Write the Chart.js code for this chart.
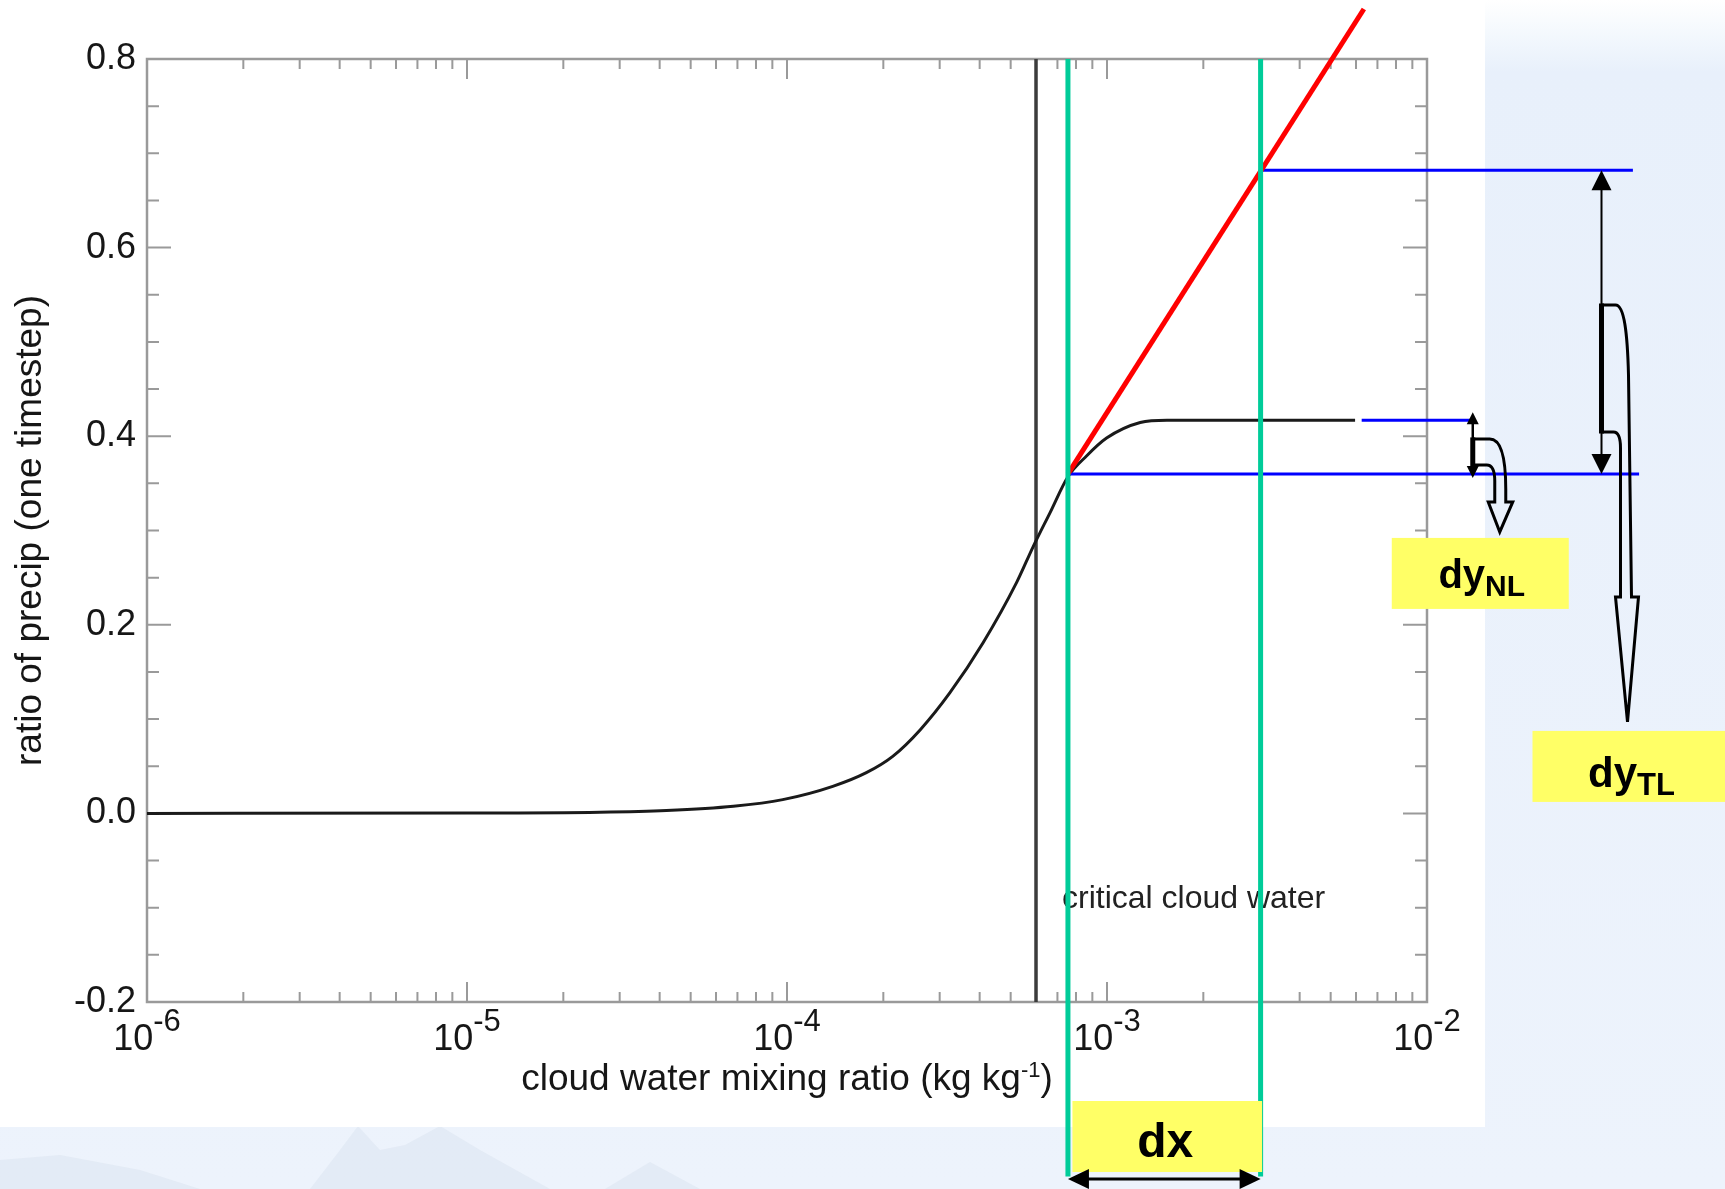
<!DOCTYPE html>
<html>
<head>
<meta charset="utf-8">
<title>Precip ratio vs cloud water</title>
<script src="https://cdn.jsdelivr.net/npm/chart.js@4.4.1/dist/chart.umd.min.js"></script>
<style>
  html, body { margin: 0; padding: 0; background: #eaf1fb; }
  #wrap { width: 1725px; height: 1189px; }
</style>
</head>
<body>
<div id="wrap"><canvas id="precip-chart" width="1725" height="1189"></canvas></div>
<script>

// cloud water mixing ratio (kg/kg) and fraction precipitated in one timestep
var cloudWater = [1e-6, 1e-5, 2.6e-5, 4.2e-5, 6.8e-5, 9.7e-5, 1.39e-4, 1.77e-4, 2.14e-4, 2.61e-4, 3.23e-4,
                  4.1e-4, 5.22e-4, 5.88e-4, 6.64e-4, 7.55e-4, 8.63e-4, 9.97e-4, 1.27e-3, 1.54e-3, 5.96e-3];
var precipRatio = [0.0, 0.0003, 0.0012, 0.003, 0.0075, 0.0146, 0.0287, 0.0432, 0.0605, 0.0888, 0.128,
                   0.181, 0.245, 0.283, 0.319, 0.357, 0.379, 0.398, 0.4145, 0.417, 0.417];

var qCrit = 6.0e-4;

// tangent-linear line from the base state
var tangentX = [7.55e-4, 6.35e-3];
var tangentY = [0.36, 0.853];

// perturbation: base state and perturbed state
var dxBounds = [7.55e-4, 3.02e-3];
var yBase = 0.36;
var yNL = 0.417;
var yTL = 0.682;

// where the dy arrows sit (kg/kg, off the right of the axis)
var xArrowNL = 0.0139;
var xArrowTL = 0.0351;
var xLineEnd = [0.044, 0.046];
var xNLStart = 6.25e-3;

var xMajor = [1e-6, 1e-5, 1e-4, 1e-3, 1e-2];
var xMajorExp = ['-6', '-5', '-4', '-3', '-2'];
var yMajor = [-0.2, 0.0, 0.2, 0.4, 0.6, 0.8];

var FONT = "'Liberation Sans', Arial, Helvetica, sans-serif";
var INK = '#161616';

Chart.defaults.font.family = FONT;

function seg(x0, y0, x1, y1) {
    return [{x: x0, y: y0}, {x: x1, y: y1}];
}

function lineSet(data, color, width, order) {
    return {
        data: data,
        borderColor: color,
        borderWidth: width,
        pointRadius: 0,
        fill: false,
        clip: false,
        order: order
    };
}

// slide background behind the white plot panel
var slideBackground = {
    id: 'slideBackground',
    beforeDraw: function(chart) {
        var ctx = chart.ctx;
        var w = chart.width, h = chart.height;
        ctx.save();
        var g = ctx.createLinearGradient(0, 0, 0, h);
        g.addColorStop(0, '#ffffff');
        g.addColorStop(0.03, '#f3f8fd');
        g.addColorStop(0.06, '#e8f0fb');
        g.addColorStop(1, '#edf3fc');
        ctx.fillStyle = g;
        ctx.fillRect(0, 0, w, h);

        // faint hills
        ctx.fillStyle = 'rgba(200, 210, 226, 0.25)';
        ctx.beginPath();
        ctx.moveTo(0, h);
        ctx.lineTo(0, 1160);
        ctx.lineTo(60, 1155);
        ctx.lineTo(140, 1170);
        ctx.lineTo(200, h);
        ctx.closePath();
        ctx.fill();
        ctx.beginPath();
        ctx.moveTo(310, h);
        ctx.lineTo(340, 1150);
        ctx.lineTo(358, 1126);
        ctx.lineTo(380, 1150);
        ctx.lineTo(405, 1145);
        ctx.lineTo(440, 1126);
        ctx.lineTo(480, 1150);
        ctx.lineTo(550, h);
        ctx.closePath();
        ctx.fill();
        ctx.beginPath();
        ctx.moveTo(605, h);
        ctx.lineTo(650, 1162);
        ctx.lineTo(700, h);
        ctx.closePath();
        ctx.fill();

        ctx.fillStyle = '#ffffff';
        ctx.fillRect(0, 0, 1485, 1127);
        ctx.restore();
    }
};

// box frame with inward ticks on all four sides, plus the critical label
var boxFrame = {
    id: 'boxFrame',
    beforeDatasetsDraw: function(chart) {
        var ctx = chart.ctx, a = chart.chartArea;
        var xs = chart.scales.x, ys = chart.scales.y;
        ctx.save();
        ctx.strokeStyle = '#9a9a9a';
        ctx.lineWidth = 2.5;
        ctx.strokeRect(a.left, a.top, a.right - a.left, a.bottom - a.top);

        ctx.lineWidth = 2;
        ctx.beginPath();
        for (var e = -6; e < -2 + 1; e++) {
            for (var m = 1; m < 10; m++) {
                var v = m * Math.pow(10, e);
                if (v > 1e-2 * 1.0001) continue;
                var px = xs.getPixelForValue(v);
                var len = m === 1 ? 20 : 10;
                ctx.moveTo(px, a.bottom);
                ctx.lineTo(px, a.bottom - len);
                ctx.moveTo(px, a.top);
                ctx.lineTo(px, a.top + len);
            }
        }
        for (var k = 0; k <= 20; k++) {
            var yv = -0.2 + k * 0.05;
            var py = ys.getPixelForValue(yv);
            var ylen = k % 4 === 0 ? 24 : 12;
            ctx.moveTo(a.left, py);
            ctx.lineTo(a.left + ylen, py);
            ctx.moveTo(a.right, py);
            ctx.lineTo(a.right - ylen, py);
        }
        ctx.stroke();

        ctx.fillStyle = '#222';
        ctx.font = '32px ' + FONT;
        ctx.textAlign = 'left';
        ctx.textBaseline = 'alphabetic';
        ctx.fillText('critical cloud water', xs.getPixelForValue(qCrit) + 26, 908);
        ctx.restore();
    }
};

function solidHead(ctx, tx, ty, dx, dy, len, half) {
    // dx, dy: unit direction the tip points to
    var bx = tx - dx * len, by = ty - dy * len;
    ctx.beginPath();
    ctx.moveTo(tx, ty);
    ctx.lineTo(bx - dy * half, by + dx * half);
    ctx.lineTo(bx + dy * half, by - dx * half);
    ctx.closePath();
    ctx.fill();
}

function label(ctx, main, sub, cx, baseline, mainSize, subSize, drop) {
    ctx.font = 'bold ' + mainSize + 'px ' + FONT;
    var w1 = ctx.measureText(main).width;
    var w2 = 0;
    if (sub) {
        ctx.font = 'bold ' + subSize + 'px ' + FONT;
        w2 = ctx.measureText(sub).width;
    }
    var x0 = cx - (w1 + w2) / 2;
    ctx.textAlign = 'left';
    ctx.font = 'bold ' + mainSize + 'px ' + FONT;
    ctx.fillText(main, x0, baseline);
    if (sub) {
        ctx.font = 'bold ' + subSize + 'px ' + FONT;
        ctx.fillText(sub, x0 + w1, baseline + drop);
    }
}

// axis labels, yellow tags and the dx / dy arrows
var annotations = {
    id: 'annotations',
    afterDatasetsDraw: function(chart) {
        var ctx = chart.ctx, a = chart.chartArea;
        var xs = chart.scales.x, ys = chart.scales.y;
        ctx.save();
        ctx.fillStyle = INK;
        ctx.textBaseline = 'alphabetic';

        // decade labels 10^n
        for (var i = 0; i < xMajor.length; i++) {
            var px = xs.getPixelForValue(xMajor[i]);
            ctx.font = '36px ' + FONT;
            var wb = ctx.measureText('10').width;
            ctx.font = '31px ' + FONT;
            var we = ctx.measureText(xMajorExp[i]).width;
            var x0 = px - (wb + we) / 2;
            ctx.textAlign = 'left';
            ctx.font = '36px ' + FONT;
            ctx.fillText('10', x0, 1050);
            ctx.font = '31px ' + FONT;
            ctx.fillText(xMajorExp[i], x0 + wb, 1031);
        }

        // x axis title with superscript
        var t1 = 'cloud water mixing ratio (kg kg', t2 = '-1', t3 = ')';
        ctx.font = '37px ' + FONT;
        var w1 = ctx.measureText(t1).width, w3 = ctx.measureText(t3).width;
        ctx.font = '22px ' + FONT;
        var w2 = ctx.measureText(t2).width;
        var tx = (a.left + a.right) / 2 - (w1 + w2 + w3) / 2;
        ctx.font = '37px ' + FONT;
        ctx.fillText(t1, tx, 1090);
        ctx.fillText(t3, tx + w1 + w2, 1090);
        ctx.font = '22px ' + FONT;
        ctx.fillText(t2, tx + w1, 1077);

        var xa = xs.getPixelForValue(dxBounds[0]);
        var xb = xs.getPixelForValue(dxBounds[1]);
        var pBase = ys.getPixelForValue(yBase);
        var pNL = ys.getPixelForValue(yNL);
        var pTL = ys.getPixelForValue(yTL);
        var axNL = xs.getPixelForValue(xArrowNL);
        var axTL = xs.getPixelForValue(xArrowTL);

        // yellow tags
        ctx.fillStyle = '#ffff66';
        ctx.fillRect(xa + 4.5, 1101, xb - xa - 3, 71);
        ctx.fillRect(axNL - 81, pBase + 64, 177, 71);
        ctx.fillRect(axTL - 69, pBase + 257, 200, 71);

        ctx.fillStyle = '#000';
        label(ctx, 'dx', null, (xa + xb) / 2 + 1, 1157, 48, 0, 0);
        label(ctx, 'dy', 'NL', axNL + 9, pBase + 114, 40, 30, 8);
        label(ctx, 'dy', 'TL', axTL + 30, pBase + 313, 42, 31, 8);

        // dx double arrow
        ctx.strokeStyle = '#000';
        ctx.lineWidth = 3;
        ctx.beginPath();
        ctx.moveTo(xa + 10, 1179);
        ctx.lineTo(xb - 10, 1179);
        ctx.stroke();
        solidHead(ctx, xa, 1179, -1, 0, 21, 10);
        solidHead(ctx, xb, 1179, 1, 0, 21, 10);

        // dy_TL double arrow
        ctx.lineWidth = 2;
        ctx.beginPath();
        ctx.moveTo(axTL, pTL + 10);
        ctx.lineTo(axTL, pBase - 10);
        ctx.stroke();
        solidHead(ctx, axTL, pTL, 0, -1, 20, 10);
        solidHead(ctx, axTL, pBase, 0, 1, 20, 10);

        // dy_NL double arrow
        ctx.lineWidth = 2.5;
        ctx.beginPath();
        ctx.moveTo(axNL, pNL - 4);
        ctx.lineTo(axNL, pBase);
        ctx.stroke();
        solidHead(ctx, axNL, pNL - 8, 0, -1, 12, 6);
        solidHead(ctx, axNL, pBase + 4, 0, 1, 12, 6);

        // hollow bent arrow from dy_TL down to its tag
        var top = pBase - 169, bot = pBase - 42;
        ctx.lineWidth = 3;
        ctx.lineJoin = 'miter';
        ctx.beginPath();
        ctx.moveTo(axTL, top);
        ctx.lineTo(axTL + 14, top);
        ctx.bezierCurveTo(axTL + 23, top, axTL + 26, top + 30, axTL + 27, top + 70);
        ctx.lineTo(axTL + 30, pBase + 123);
        ctx.lineTo(axTL + 37, pBase + 123);
        ctx.lineTo(axTL + 26, pBase + 248);
        ctx.lineTo(axTL + 14, pBase + 123);
        ctx.lineTo(axTL + 19, pBase + 123);
        ctx.lineTo(axTL + 19, bot + 16);
        ctx.quadraticCurveTo(axTL + 19, bot, axTL + 12, bot);
        ctx.lineTo(axTL, bot);
        ctx.stroke();
        ctx.lineWidth = 5;
        ctx.beginPath();
        ctx.moveTo(axTL, top - 1.5);
        ctx.lineTo(axTL, bot + 1.5);
        ctx.stroke();

        // hollow bent arrow from dy_NL down to its tag
        top = pBase - 35;
        bot = pBase - 9;
        ctx.lineWidth = 3;
        ctx.beginPath();
        ctx.moveTo(axNL, top);
        ctx.lineTo(axNL + 17, top);
        ctx.bezierCurveTo(axNL + 28, top, axNL + 33, top + 18, axNL + 33, top + 50);
        ctx.lineTo(axNL + 33, pBase + 28);
        ctx.lineTo(axNL + 40, pBase + 28);
        ctx.lineTo(axNL + 27, pBase + 58);
        ctx.lineTo(axNL + 15.5, pBase + 28);
        ctx.lineTo(axNL + 22, pBase + 28);
        ctx.lineTo(axNL + 22, bot + 16);
        ctx.quadraticCurveTo(axNL + 22, bot, axNL + 14, bot);
        ctx.lineTo(axNL, bot);
        ctx.stroke();
        ctx.lineWidth = 5;
        ctx.beginPath();
        ctx.moveTo(axNL, top - 1.5);
        ctx.lineTo(axNL, bot + 1.5);
        ctx.stroke();

        ctx.restore();
    }
};

function makePrecipChart() {
    var ctx = document.getElementById('precip-chart');
    var curve = cloudWater.map(function(q, i) {
        return {x: q, y: precipRatio[i]};
    });

    var green = '#00cc99';
    var blue = '#0000ff';
    var greenBottom = -0.385;

    var curveSet = lineSet(curve, '#1a1a1a', 3, 5);
    curveSet.cubicInterpolationMode = 'monotone';

    var chart = new Chart(ctx, {
        type: 'line',
        data: {
            datasets: [
                curveSet,
                lineSet(seg(qCrit, -0.2, qCrit, 0.8), '#3c3c3c', 3.5, 6),
                lineSet(seg(tangentX[0], tangentY[0], tangentX[1], tangentY[1]), '#ff0000', 5, 3),
                lineSet(seg(dxBounds[0], yBase, xLineEnd[1], yBase), blue, 3, 4),
                lineSet(seg(dxBounds[1], yTL, xLineEnd[0], yTL), blue, 3, 4),
                lineSet(seg(xNLStart, yNL, xArrowNL, yNL), blue, 3, 4),
                lineSet(seg(dxBounds[0], 0.8, dxBounds[0], greenBottom), green, 5, 1),
                lineSet(seg(dxBounds[1], 0.8, dxBounds[1], greenBottom), green, 5, 1)
            ]
        },
        options: {
            responsive: false,
            animation: false,
            events: [],
            devicePixelRatio: 1,
            layout: {
                padding: {top: 59, right: 298, bottom: 0, left: 0}
            },
            plugins: {
                legend: {display: false},
                tooltip: {enabled: false}
            },
            scales: {
                x: {
                    type: 'logarithmic',
                    min: 1e-6,
                    max: 1e-2,
                    afterFit: function(s) { s.height = 187; },
                    ticks: {display: false},
                    grid: {display: false, drawTicks: false},
                    border: {display: false}
                },
                y: {
                    type: 'linear',
                    min: -0.2,
                    max: 0.8,
                    afterFit: function(s) { s.width = 147; },
                    afterBuildTicks: function(s) {
                        s.ticks = yMajor.map(function(v) { return {value: v}; });
                    },
                    grid: {display: false, drawTicks: false},
                    border: {display: false},
                    ticks: {
                        color: INK,
                        padding: 11,
                        font: {size: 36},
                        callback: function(v) {
                            return Math.abs(v) < 1e-9 ? '0.0' : Number(v).toFixed(1);
                        }
                    },
                    title: {
                        display: true,
                        text: 'ratio of precip (one timestep)',
                        color: INK,
                        font: {size: 37},
                        padding: {top: 9, bottom: 0}
                    }
                }
            }
        },
        plugins: [slideBackground, boxFrame, annotations]
    });
    return chart;
}

makePrecipChart();
</script>
</body>
</html>
